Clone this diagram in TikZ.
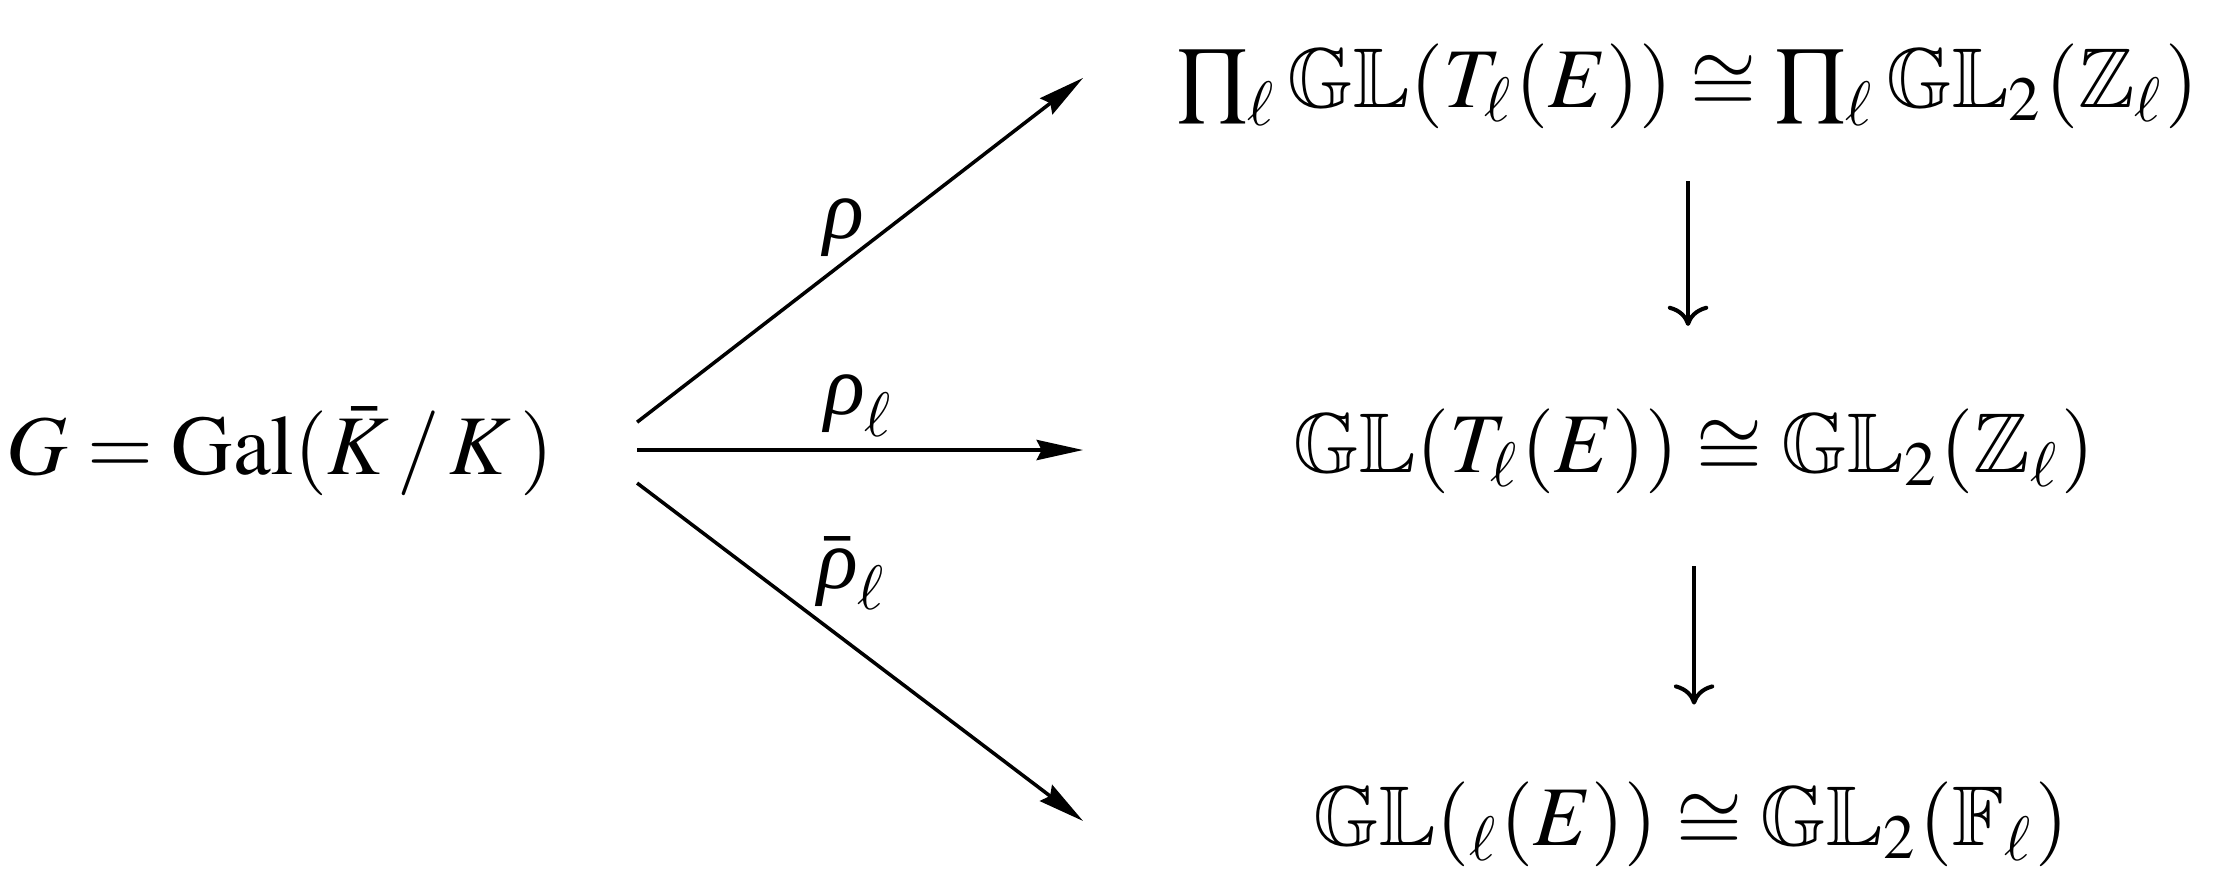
\documentclass[tikz,border=0pt]{standalone}
\usepackage{mathptmx}
\usepackage{amssymb}
\usepackage[no-math]{fontspec}
\setmainfont{Liberation Serif}
\newfontfamily\grkfont{Liberation Serif}
\newcommand{\irho}{\mbox{\grkfont\itshape ρ}}
\usetikzlibrary{arrows.meta,positioning}
\tikzset{
  obj/.style={inner sep=0pt,font=\fontsize{8.4}{10}\selectfont},
  fan/.style={-{Stealth[length=4.6pt,width=2pt,inset=0.5pt]},line width=0.35pt},
  down/.style={-{Computer Modern Rightarrow[length=2pt,width=4pt]},line width=0.4pt},
  lbl/.style={inner sep=1.2pt,font=\fontsize{8.4}{10}\selectfont}
}

\begin{document}
\begin{tikzpicture}
  \useasboundingbox (0,0) rectangle (7.753,-3.048);

  \node[obj] (gal) at (0.975,-1.57) {$G=\mathrm{Gal}(\bar{K}\,/\,K\,)$};
  \node[obj] (prod) at (5.874,-0.30) {$\prod_\ell \mathbb{GL}(T_\ell(E))\cong\prod_\ell \mathbb{GL}_2(\mathbb{Z}_\ell)$};
  \node[obj] (tate) at (5.895,-1.57) {$\mathbb{GL}(T_\ell(E))\cong\mathbb{GL}_2(\mathbb{Z}_\ell)$};
  \node[obj] (tors) at (5.885,-2.87) {$\mathbb{GL}({}_\ell(E))\cong\mathbb{GL}_2(\mathbb{F}_\ell)$};

  % ends of the three maps out of G
  \coordinate (fanA) at (2.217,-1.469);
  \coordinate (fanB) at (2.217,-1.566);
  \coordinate (fanC) at (2.217,-1.681);
  \coordinate (endA) at (3.769,-0.271);
  \coordinate (endB) at (3.769,-1.566);
  \coordinate (endC) at (3.769,-2.857);

  \draw[fan] (fanA) -- node[lbl,above left,xshift=1.8pt,yshift=-2pt]{$\irho$} (endA);
  \draw[fan] (fanB) -- node[lbl,above]{$\irho_\ell$} (endB);
  \draw[fan] (fanC) -- node[lbl,above,inner sep=4pt,xshift=-0.7pt]{$\bar{\irho}_\ell$} (endC);

  \draw[down,shorten <=5pt,shorten >=8pt] (prod.south) -- (prod.south |- tate.north);
  \draw[down,shorten <=7pt,shorten >=7.5pt] (tate.south) -- (tate.south |- tors.north);
\end{tikzpicture}
\end{document}
